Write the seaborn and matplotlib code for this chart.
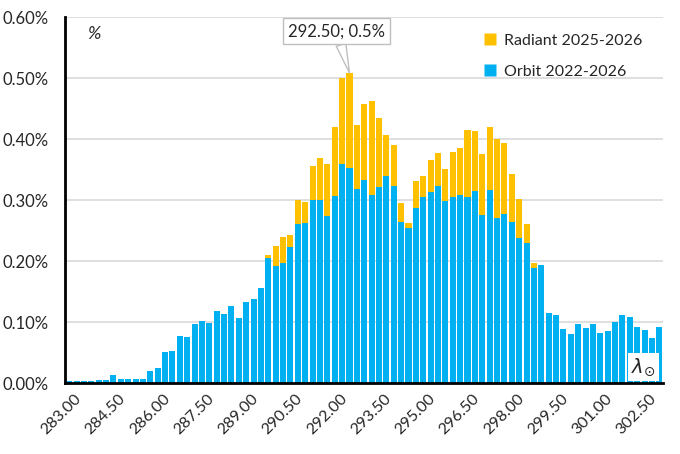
#!/usr/bin/env python3
# Solar longitude histogram: orbit vs radiant, overlapped bars.

import numpy as np
import pandas as pd
import seaborn as sns
import matplotlib

matplotlib.use("Agg")
import matplotlib.pyplot as plt
import matplotlib.transforms as mtransforms
from matplotlib.lines import Line2D
from matplotlib.ticker import FixedLocator, FuncFormatter

# Data (values in percent), one bar per 0.25 deg of solar longitude.
lon_start = 283.00
lon_step = 0.25

orbit = [
    0.004, 0.004, 0.004, 0.004, 0.0055, 0.0055, 0.0137, 0.0071, 0.0071, 0.0071,
    0.0071, 0.0202, 0.0251, 0.0514, 0.053, 0.0776, 0.076, 0.0973, 0.102, 0.0986,
    0.1186, 0.113, 0.126, 0.1066, 0.134, 0.138, 0.157, 0.205, 0.192, 0.198,
    0.223, 0.261, 0.262, 0.3005, 0.3005, 0.274, 0.307, 0.3596, 0.353, 0.3186,
    0.333, 0.309, 0.322, 0.340, 0.3235, 0.2645, 0.2546, 0.2874, 0.3055, 0.3137,
    0.3235, 0.299, 0.3055, 0.309, 0.3055, 0.315, 0.276, 0.317, 0.271, 0.2776,
    0.2645, 0.238, 0.230, 0.189, 0.194, 0.1153, 0.112, 0.089, 0.081, 0.097,
    0.0907, 0.097, 0.0825, 0.0858, 0.1005, 0.112, 0.1087, 0.0923, 0.0874, 0.0743,
    0.0923,
]

radiant = [0.0] * 27 + [
    0.210, 0.2246, 0.239, 0.243, 0.300, 0.297, 0.356, 0.369, 0.3596, 0.420,
    0.5005, 0.5087, 0.4235, 0.458, 0.463, 0.435, 0.407, 0.391, 0.2956, 0.2628,
    0.332, 0.340, 0.366, 0.3776, 0.351, 0.379, 0.386, 0.415, 0.4137, 0.376,
    0.420, 0.4005, 0.394, 0.343, 0.302, 0.261, 0.197,
] + [0.0] * 17

series_names = ["Radiant 2025-2026", "Orbit 2022-2026"]
colors = ["#FFC000", "#00B0F0"]

lon = [lon_start + i * lon_step for i in range(len(orbit))]
lon_labels = ["{:.2f}".format(v) for v in lon]
df = pd.DataFrame({"lon": lon_labels, "orbit": orbit, "radiant": radiant})

sns.set_style("white")
plt.rcParams["font.family"] = ["Lato", "DejaVu Sans"]
plt.rcParams["mathtext.fontset"] = "dejavusans"

fig = plt.figure(figsize=(6.8, 4.54), dpi=100)
ax = fig.add_axes([0.0963, 0.1557, 0.8787, 0.8063])

sns.barplot(data=df, x="lon", y="radiant", order=lon_labels, color=colors[0],
            width=0.82, saturation=1, ax=ax, zorder=2)
sns.barplot(data=df, x="lon", y="orbit", order=lon_labels, color=colors[1],
            width=0.82, saturation=1, ax=ax, zorder=3)
for p in ax.patches:
    p.set_edgecolor("none")

ax.set_xlim(-0.5, len(orbit) - 0.5)
ax.set_ylim(0, 0.6)
ax.set_xlabel("")
ax.set_ylabel("")

# y axis
ax.set_yticks(np.arange(0, 0.61, 0.1))
ax.yaxis.set_major_formatter(FuncFormatter(lambda v, p: "{:.2f}%".format(v)))
ax.grid(axis="y", color="#D9D9D9", linewidth=1.2, zorder=0)
ax.set_axisbelow(True)

# x axis: labels every 6 bars, tick marks every 4 bars on the boundaries
label_pos = list(range(0, len(orbit), 6))
ax.set_xticks(label_pos)
ax.set_xticklabels([lon_labels[i] for i in label_pos], rotation=45, ha="right",
                   rotation_mode="anchor")
ax.xaxis.set_minor_locator(FixedLocator(np.arange(-0.5, len(orbit), 4)))
ax.tick_params(axis="x", which="major", length=0, pad=6, labelsize=11.5)
ax.tick_params(axis="x", which="minor", direction="in", length=5, width=1.6,
               color="black")
ax.tick_params(axis="y", which="major", direction="in", length=5, width=1.6,
               color="black", pad=12, labelsize=12)
shift = mtransforms.ScaledTranslation(5 / 100, 0, fig.dpi_scale_trans)
for lab in ax.get_xticklabels():
    lab.set_transform(lab.get_transform() + shift)

for side in ["top", "right"]:
    ax.spines[side].set_visible(False)
for side in ["left", "bottom"]:
    ax.spines[side].set_linewidth(2)
    ax.spines[side].set_color("black")
    ax.spines[side].set_zorder(5)

# unit label and axis symbol
ax.text(0.036, 0.955, "%", transform=ax.transAxes, fontsize=13, style="italic",
        va="center", ha="left")
ax.text(0.988, 0.045, r"$\lambda_{\odot}$", transform=ax.transAxes, fontsize=14,
        ha="right", va="center", zorder=6,
        bbox=dict(boxstyle="square,pad=0.15", facecolor="white", edgecolor="none"))

# callout at the radiant peak
peak = int(np.argmax(radiant))
ax.annotate("{}; {:.1f}%".format(lon_labels[peak], radiant[peak]),
            xy=(peak, radiant[peak]), xytext=(-9, 30), textcoords="offset points",
            ha="center", va="center", fontsize=12, zorder=7,
            bbox=dict(boxstyle="square,pad=0.3", facecolor="white",
                      edgecolor="#BFBFBF", linewidth=1),
            arrowprops=dict(arrowstyle="wedge,tail_width=0.6", facecolor="white",
                            edgecolor="#BFBFBF", linewidth=1, shrinkA=0, shrinkB=0))

handles = [Line2D([0], [0], marker="s", linestyle="none", markersize=8,
                  markerfacecolor=c, markeredgecolor="none") for c in colors]
fig.legend(handles, series_names, loc="upper left",
           bbox_to_anchor=(0.69, 0.958), frameon=False, fontsize=11.5,
           handlelength=0.8, handletextpad=0.45, labelspacing=1.05)

fig.savefig("out.png", dpi=100)
plt.close()
